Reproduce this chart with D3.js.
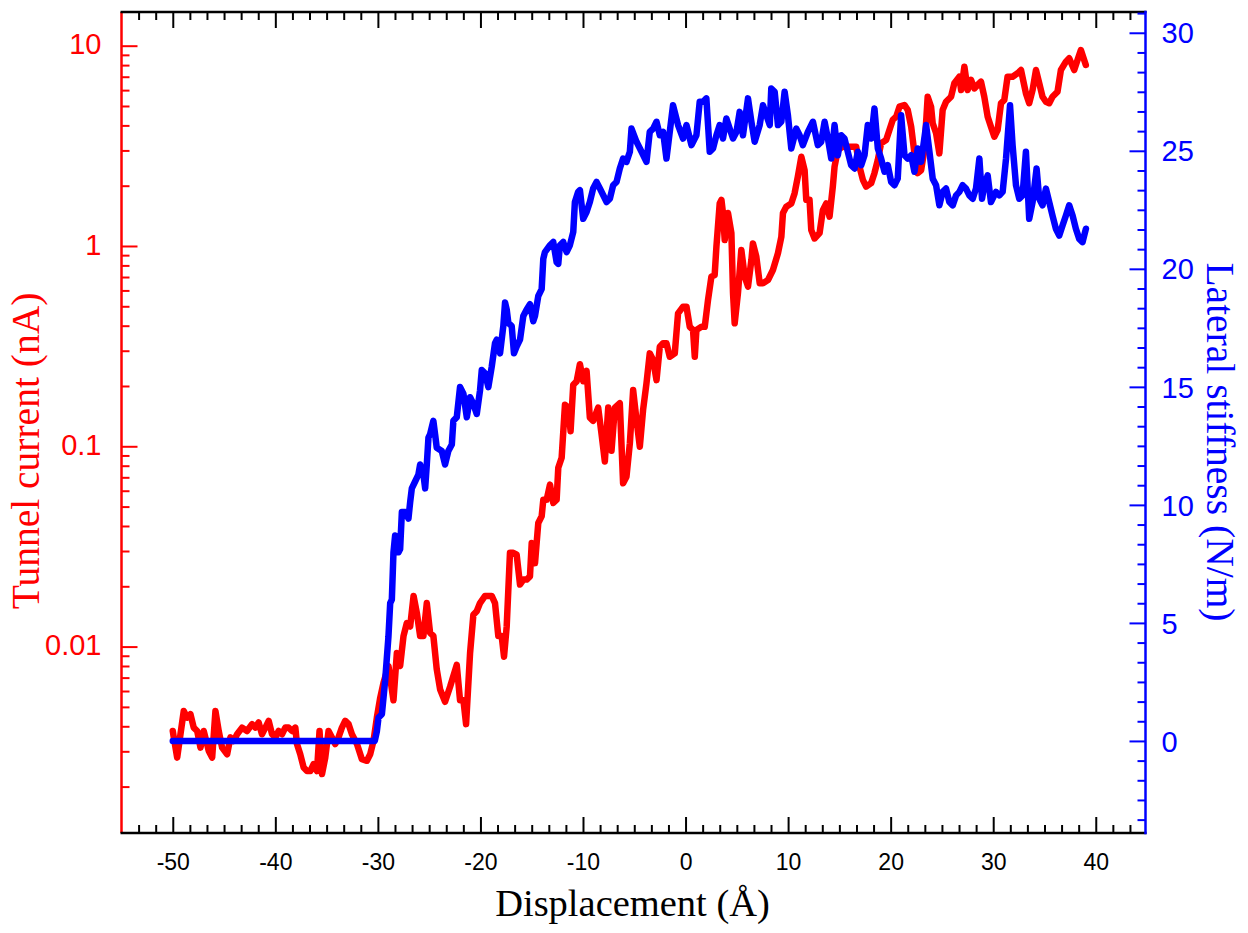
<!DOCTYPE html>
<html><head><meta charset="utf-8">
<script src="https://cdn.jsdelivr.net/npm/d3@7"></script>
<style>html,body{margin:0;padding:0;background:#fff;} svg{display:block;}</style>
</head><body>
<svg id="chart" width="1248" height="933"></svg>
<script>
// ---- data: [displacement (Å), tunnel current (nA)] ----
const tunnelCurrent = [
[-50.00,0.00379],[-49.90,0.00352],[-49.57,0.00279],[-49.25,0.00365],[-48.93,0.00477],[-48.60,0.00442],[-48.28,0.00460],[-47.96,0.00394],[-47.62,0.00379],[-47.30,0.00313],[-46.98,0.00379],[-46.49,0.00301],[-46.16,0.00279],[-45.84,0.00477],[-45.52,0.00379],[-45.19,0.00313],[-44.70,0.00290],[-44.38,0.00352],[-44.06,0.00338],[-43.73,0.00365],[-43.24,0.00394],[-42.76,0.00379],[-42.27,0.00410],[-41.95,0.00394],[-41.63,0.00418],[-41.30,0.00365],[-40.97,0.00394],[-40.65,0.00426],[-40.32,0.00365],[-40.00,0.00352],[-39.68,0.00379],[-39.35,0.00365],[-39.03,0.00394],[-38.71,0.00394],[-38.37,0.00379],[-38.05,0.00394],[-37.89,0.00326],[-37.57,0.00290],[-37.24,0.00249],[-36.91,0.00239],[-36.59,0.00239],[-36.27,0.00259],[-35.94,0.00239],[-35.69,0.00379],[-35.45,0.00231],[-35.13,0.00279],[-34.81,0.00379],[-34.48,0.00352],[-34.16,0.00326],[-33.84,0.00352],[-33.51,0.00394],[-33.18,0.00426],[-32.86,0.00410],[-32.53,0.00365],[-32.04,0.00326],[-31.56,0.00274],[-31.07,0.00269],[-30.75,0.00290],[-30.43,0.00338],[-30.10,0.00442],[-29.77,0.00556],
[-29.45,0.0066],[-28.97,0.0080],[-28.48,0.0054],[-28.15,0.0093],[-27.83,0.0080],[-27.50,0.0113],[-27.18,0.0131],[-26.85,0.0126],[-26.52,0.0179],[-26.20,0.0147],[-25.88,0.0113],[-25.56,0.0113],[-25.23,0.0165],[-24.91,0.0117],[-24.59,0.0113],[-24.26,0.0077],[-23.93,0.0061],[-23.45,0.0053],[-22.96,0.0063],[-22.31,0.0081],[-21.99,0.0054],[-21.66,0.0054],[-21.40,0.0041],[-21.01,0.0093],[-20.69,0.0144],[-20.36,0.0150],[-20.04,0.0165],[-19.55,0.0179],[-18.90,0.0179],[-18.58,0.0165],[-18.26,0.0113],[-17.93,0.0113],[-17.70,0.0089],[-17.44,0.0126],[-17.12,0.0294],[-16.80,0.0294],[-16.47,0.0288],[-16.14,0.0204],[-15.82,0.0216],[-15.49,0.0216],[-15.17,0.0224],[-15.00,0.0329],[-14.68,0.0261],[-14.36,0.0414],[-14.03,0.0447],[-13.87,0.0541],[-13.54,0.0541],[-13.22,0.0644],[-12.90,0.0521],[-12.57,0.0541],[-12.41,0.0781],[-12.08,0.0877],[-11.76,0.161],[-11.44,0.156],[-11.21,0.119],[-10.95,0.203],[-10.62,0.211],[-10.30,0.257],[-9.97,0.211],[-9.65,0.238],[-9.33,0.139],[-9.01,0.134],[-8.52,0.156],[-8.19,0.115],[-7.87,0.084],[-7.54,0.156],[-7.22,0.095],[-6.89,0.156],
[-6.41,0.164],[-6.09,0.0653],[-5.76,0.0705],[-5.43,0.1035],[-5.11,0.191],[-4.78,0.135],[-4.46,0.0995],[-4.14,0.152],[-3.81,0.206],[-3.49,0.291],[-3.16,0.270],[-2.83,0.214],[-2.51,0.314],[-2.19,0.327],[-1.86,0.327],[-1.54,0.280],[-1.05,0.291],[-0.73,0.461],[-0.24,0.498],[0.09,0.498],[0.41,0.395],[0.73,0.381],[0.90,0.280],[1.06,0.381],[1.55,0.395],[1.87,0.395],[2.19,0.537],[2.52,0.703],[2.84,0.716],[3.01,0.993],[3.33,1.63],[3.50,1.70],[3.65,1.46],[3.82,1.07],[4.14,1.46],[4.47,1.16],[4.63,0.581],[4.79,0.411],[5.11,0.581],[5.44,0.955],[5.77,0.703],[6.09,0.627],[6.42,0.851],[6.57,1.03],[6.90,0.885],[7.23,0.652],[7.55,0.652],[8.04,0.676],[8.52,0.759],[9.01,0.920],[9.34,1.11],[9.50,1.46],[9.82,1.57],[10.31,1.63],[10.63,1.83],[10.95,2.22],[11.29,2.79],[11.61,2.39],[11.77,1.70],[12.09,1.70],[12.26,1.20],[12.58,1.09],[13.07,1.16],
[13.39,1.51],[13.72,1.63],[14.04,1.40],[14.36,1.98],[14.53,2.49],[14.85,3.02],[15.34,3.13],[15.99,3.13],[16.64,3.13],[16.96,2.49],[17.29,2.14],[17.61,1.98],[18.10,2.06],[18.42,2.31],[18.75,2.69],[19.07,3.26],[19.56,3.38],[19.88,3.79],[20.20,4.26],[20.54,4.42],[20.86,4.96],[21.35,5.06],[21.67,4.77],[22.00,3.94],[22.32,2.90],[22.64,2.31],[22.97,2.39],[23.29,3.02],[23.61,5.56],[23.94,4.96],[24.10,4.10],[24.43,3.66],[24.75,2.90],[25.07,4.77],[25.40,5.25],[25.89,5.56],[26.21,6.49],[26.70,7.00],[26.87,6.01],[27.19,7.85],[27.51,6.01],[27.84,6.75],[28.16,6.12],[28.48,6.37],[28.81,6.61],[29.13,5.56],[29.46,4.42],[29.78,3.94],[30.11,3.51],[30.43,3.79],[30.76,5.16],[31.08,5.36],[31.40,7.00],[31.89,7.00],[32.38,7.28],[32.71,7.56],[33.19,5.78],[33.51,5.16],[33.84,6.01],[34.17,7.56],[34.49,6.49],[34.81,5.56],[35.14,5.25],[35.46,5.16],[35.78,5.56],[36.27,5.89],[36.60,7.56],[37.09,8.32],[37.41,8.65],[37.90,7.56],[38.22,8.49],[38.55,9.52],[38.87,8.49],[39.03,8.01]
];

// ---- data: [displacement (Å), lateral stiffness (N/m)] ----
const lateralStiffness = [
[-50.00,0],[-30.30,0],[-30.10,0.41],[-29.94,0.99],[-29.61,1.13],[-29.29,2.56],[-28.97,4.42],[-28.80,5.84],[-28.64,5.99],[-28.48,7.99],[-28.32,8.70],[-27.99,7.99],[-27.83,8.13],[-27.66,9.70],[-27.34,9.70],[-27.02,9.42],[-26.85,10.13],[-26.69,10.70],[-26.37,10.99],[-26.05,11.28],[-25.88,11.71],[-25.56,11.28],[-25.39,10.70],[-25.23,11.71],[-25.07,12.85],[-24.91,12.99],[-24.59,13.56],[-24.42,12.99],[-24.26,12.42],[-23.77,12.28],[-23.45,11.71],[-23.13,12.28],[-22.79,12.56],[-22.64,13.56],[-22.31,13.71],[-21.99,14.99],[-21.66,14.71],[-21.33,13.71],[-21.01,14.56],[-20.69,14.28],[-20.36,13.85],[-20.04,14.85],[-19.87,15.71],[-19.55,15.57],[-19.23,14.99],[-18.90,15.85],[-18.58,16.85],[-18.41,17.00],[-18.09,16.42],[-17.77,17.57],[-17.60,18.57],[-17.44,18.28],[-17.28,17.71],[-16.95,17.57],[-16.73,16.42],[-16.47,16.71],[-16.14,17.00],[-15.82,18.00],[-15.49,18.28],[-15.17,18.50],[-14.85,17.78],[-14.68,18.00],[-14.36,18.85],[-14.03,19.14],[-13.87,20.43],[-13.71,20.71],[-13.22,21.00],[-12.90,21.14],[-12.57,20.28],[-12.41,20.21],[-12.25,21.00],[-11.93,21.14],[-11.60,20.71],[-11.28,21.00],
[-10.95,21.56],[-10.79,22.83],[-10.47,23.26],[-10.30,23.33],[-9.98,22.12],[-9.65,22.41],[-9.33,22.83],[-9.01,23.40],[-8.68,23.68],[-8.35,23.40],[-7.70,22.83],[-7.38,22.97],[-7.06,23.54],[-6.73,23.68],[-6.41,24.25],[-6.09,24.67],[-5.76,24.53],[-5.43,24.96],[-5.27,25.94],[-4.78,25.38],[-4.29,24.96],[-3.81,24.53],[-3.49,25.80],[-3.16,25.94],[-2.83,26.23],[-2.51,25.66],[-2.19,25.80],[-1.86,24.67],[-1.54,25.80],[-1.22,26.93],[-0.73,26.09],[-0.24,25.52],[0.09,26.09],[0.58,25.24],[1.06,25.66],[1.38,27.08],[1.71,27.08],[2.03,27.22],[2.36,24.96],[2.68,25.10],[3.01,25.66],[3.33,26.09],[3.65,25.52],[3.98,26.37],[4.30,25.94],[4.63,25.52],[4.96,25.80],[5.28,26.65],[5.60,25.66],[6.09,27.22],[6.42,26.23],[6.74,25.38],[7.23,26.09],[7.55,26.93],[7.88,26.51],[8.21,26.09],[8.36,27.64],[8.69,27.50],[9.01,26.09],[9.34,26.23],[9.66,27.50],[9.98,26.51],[10.31,25.10],[10.80,25.94],[11.12,25.66],[11.44,25.24],[11.93,25.80],[12.42,26.23],[12.90,25.24],
[13.23,25.38],[13.56,26.23],[13.88,25.52],[14.21,24.67],[14.53,26.09],[14.85,24.81],[15.18,25.66],[15.50,25.52],[15.82,24.96],[16.15,24.39],[16.48,24.25],[16.80,24.96],[17.13,24.39],[17.45,24.81],[17.77,26.09],[18.10,25.52],[18.42,26.79],[18.75,25.10],[19.07,24.67],[19.40,24.11],[19.72,24.39],[20.05,23.68],[20.37,23.54],[20.69,23.82],[21.02,26.51],[21.35,24.81],[21.67,24.67],[22.00,24.81],[22.32,24.11],[22.64,25.10],[22.97,24.53],[23.46,26.09],[23.78,24.96],[24.10,23.82],[24.43,23.54],[24.75,22.69],[25.07,23.26],[25.40,23.40],[25.72,22.83],[26.05,22.69],[26.38,23.11],[26.70,23.26],[27.02,23.54],[27.35,23.40],[27.67,23.11],[28.00,22.97],[28.32,23.40],[28.65,24.67],[28.91,22.97],[29.13,23.54],[29.46,23.96],[29.78,22.83],[30.27,23.26],[30.59,23.11],[30.92,23.26],[31.25,24.67],[31.64,26.93],[31.89,25.24],[32.22,23.54],[32.54,22.97],[32.86,23.11],[33.19,24.96],[33.51,22.12],[33.84,22.83],[34.23,24.25],[34.49,22.97],[34.81,22.69],[35.14,23.40],[35.46,22.83],[35.78,22.26],[36.11,21.70],[36.44,21.41],[36.76,21.84],[37.09,22.26],[37.41,22.69],[37.74,22.26],[38.06,21.70],[38.39,21.27],[38.71,21.13],[39.04,21.70]
];

// ---- ticks ----
const displacementTicks = [-50,-40,-30,-20,-10,0,10,20,30,40];
const displacementTickLabels = ["-50","-40","-30","-20","-10","0","10","20","30","40"];
const currentTicks = [0.01,0.1,1,10];
const currentTickLabels = ["0.01","0.1","1","10"];
const stiffnessTicks = [0,5,10,15,20,25,30];
const stiffnessTickLabels = ["0","5","10","15","20","25","30"];

const xTitle = "Displacement (Å)";
const yLeftTitle = "Tunnel current (nA)";
const yRightTitle = "Lateral stiffness (N/m)";

// ---- layout ----
const L = 121.5, R = 1145.5, T = 12, B = 833;
const RED = "#ff0000", BLUE = "#0000ff", BLACK = "#000000";
const SANS = "'Liberation Sans', Arial, sans-serif";
const SERIF = "'Liberation Serif', 'Times New Roman', serif";

const svg = d3.select("#chart");
const x = d3.scaleLinear().domain([-55, 44.85]).range([L, R]);
const yI = d3.scaleLog().domain([0.001173, 14.73]).range([B, T]);
const yS = d3.scaleLinear().domain([-3.9, 30.88]).range([B, T]);

// minor ticks
const xMinor = [];
for (let i = -2; i <= 57; i++) { const v = -50 + i * 10 / 6; if (i % 6 !== 0 && v > -54.9 && v < 44.8) xMinor.push(v); }
const logMinor = [];
for (let d = -3; d <= 1; d++) for (let m = 2; m <= 9; m++) { const v = m * Math.pow(10, d); if (v > 0.001173 && v < 14.73) logMinor.push(v); }
const sMinor = [];
for (let i = -5; i <= 38; i++) { const v = i * 5 / 6; if (i % 6 !== 0 && v > -3.9 && v < 30.88) sMinor.push(v); }

// ---- series ----
const lineI = d3.line().x(d => x(d[0])).y(d => yI(d[1]));
const lineS = d3.line().x(d => x(d[0])).y(d => yS(d[1]));
svg.append("path").datum(tunnelCurrent).attr("d", lineI)
  .attr("fill", "none").attr("stroke", RED).attr("stroke-width", 6.5)
  .attr("stroke-linejoin", "round").attr("stroke-linecap", "round");
svg.append("path").datum(lateralStiffness).attr("d", lineS)
  .attr("fill", "none").attr("stroke", BLUE).attr("stroke-width", 6.5)
  .attr("stroke-linejoin", "round").attr("stroke-linecap", "round");

// ---- axes ----
function style(g, color, size, dy) {
  g.select(".domain").remove();
  g.selectAll(".tick line").attr("stroke", color).attr("stroke-width", 2);
  g.selectAll(".tick text").attr("fill", color).style("font-family", SANS).style("font-size", size + "px");
  if (dy !== undefined) g.selectAll(".tick text").attr("dy", dy);
}

// left (red, log)
const gL = svg.append("g").attr("transform", `translate(${L},0)`)
  .call(d3.axisLeft(yI).tickValues(currentTicks).tickSize(-16).tickSizeOuter(0).tickPadding(20)
    .tickFormat((d, i) => currentTickLabels[i]));
style(gL, RED, 29, "0.28em");
const gLm = svg.append("g").attr("transform", `translate(${L},0)`)
  .call(d3.axisLeft(yI).tickValues(logMinor).tickSize(-8).tickSizeOuter(0).tickFormat(""));
style(gLm, RED, 0);
svg.append("line").attr("x1", L).attr("x2", L).attr("y1", T).attr("y2", B)
  .attr("stroke", RED).attr("stroke-width", 2.5);

// bottom & top (black)
const gB = svg.append("g").attr("transform", `translate(0,${B})`)
  .call(d3.axisBottom(x).tickValues(displacementTicks).tickSize(-16).tickSizeOuter(0).tickPadding(21)
    .tickFormat((d, i) => displacementTickLabels[i]));
style(gB, BLACK, 23);
const gBm = svg.append("g").attr("transform", `translate(0,${B})`)
  .call(d3.axisBottom(x).tickValues(xMinor).tickSize(-8).tickSizeOuter(0).tickFormat(""));
style(gBm, BLACK, 0);
const gT = svg.append("g").attr("transform", `translate(0,${T})`)
  .call(d3.axisTop(x).tickValues(displacementTicks).tickSize(-16).tickSizeOuter(0).tickFormat(""));
style(gT, BLACK, 0);
const gTm = svg.append("g").attr("transform", `translate(0,${T})`)
  .call(d3.axisTop(x).tickValues(xMinor).tickSize(-8).tickSizeOuter(0).tickFormat(""));
style(gTm, BLACK, 0);
svg.append("line").attr("x1", L - 1).attr("x2", R + 1).attr("y1", T).attr("y2", T)
  .attr("stroke", BLACK).attr("stroke-width", 2.5);
svg.append("line").attr("x1", L - 1).attr("x2", R + 1).attr("y1", B).attr("y2", B)
  .attr("stroke", BLACK).attr("stroke-width", 2.5);

// right (blue, linear)
const gR = svg.append("g").attr("transform", `translate(${R},0)`)
  .call(d3.axisRight(yS).tickValues(stiffnessTicks).tickSize(-16).tickSizeOuter(0).tickPadding(16)
    .tickFormat((d, i) => stiffnessTickLabels[i]));
style(gR, BLUE, 29, "0.35em");
const gRm = svg.append("g").attr("transform", `translate(${R},0)`)
  .call(d3.axisRight(yS).tickValues(sMinor).tickSize(-8).tickSizeOuter(0).tickFormat(""));
style(gRm, BLUE, 0);
svg.append("line").attr("x1", R).attr("x2", R).attr("y1", T - 1.25).attr("y2", B + 1.25)
  .attr("stroke", BLUE).attr("stroke-width", 2.5);

// ---- titles ----
svg.append("text").attr("x", 632.5).attr("y", 916).attr("text-anchor", "middle")
  .style("font-family", SERIF).style("font-size", "38.5px").attr("fill", BLACK).text(xTitle);
svg.append("text").attr("transform", "translate(39,451) rotate(-90)").attr("text-anchor", "middle")
  .style("font-family", SERIF).style("font-size", "39.5px").attr("fill", RED).text(yLeftTitle);
svg.append("text").attr("transform", "translate(1207,442) rotate(90)").attr("text-anchor", "middle")
  .style("font-family", SERIF).style("font-size", "39.5px").attr("fill", BLUE).text(yRightTitle);
</script>
</body></html>
